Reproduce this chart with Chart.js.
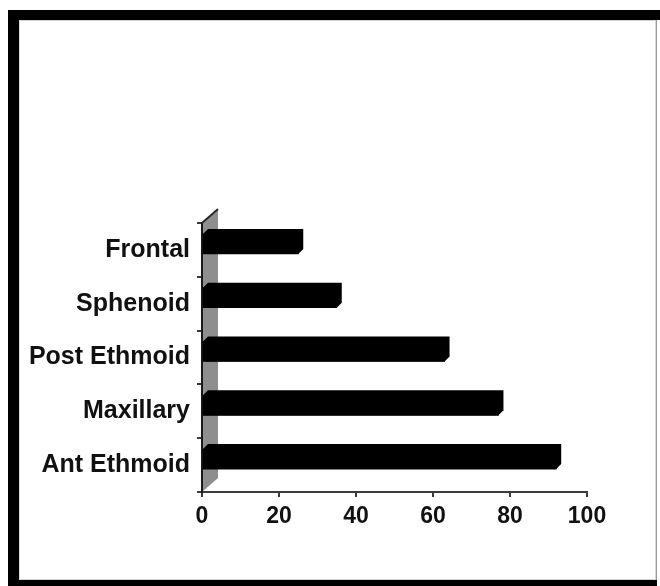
<!DOCTYPE html>
<html>
<head>
<meta charset="utf-8">
<script src="https://cdn.jsdelivr.net/npm/chart.js@4/dist/chart.umd.min.js"></script>
<style>
  html, body { margin: 0; padding: 0; background: #fff; }
  #wrap { position: relative; width: 660px; height: 586px; }
  canvas { display: block; }
</style>
</head>
<body>
<div id="wrap"><canvas id="c" width="660" height="586"></canvas></div>
<script>
// Sinus involvement by site (%)
const categories = ['Frontal', 'Sphenoid', 'Post Ethmoid', 'Maxillary', 'Ant Ethmoid'];
const percentages = [25, 35, 63, 77, 92];
const xTickValues = [0, 20, 40, 60, 80, 100];

const FONT = '"Liberation Sans", Arial, Helvetica, sans-serif';
const BAR_DEPTH = 5;      // extrusion of each bar (px)
const WALL_DX = 16;       // side wall depth, horizontal
const WALL_DY = 14;       // side wall depth, vertical
const BAR_LIFT = 6;       // bars sit slightly back from the floor edge

// Black frame around the figure
const framePlugin = {
  id: 'frame',
  beforeDraw(chart) {
    const ctx = chart.ctx;
    ctx.save();
    ctx.fillStyle = '#ffffff';
    ctx.fillRect(0, 0, chart.width, chart.height);
    ctx.fillStyle = '#000000';
    ctx.fillRect(8, 10, 11, 576);      // left
    ctx.fillRect(8, 10, 652, 10);      // top
    ctx.fillRect(8, 580, 649, 6);      // bottom
    ctx.fillStyle = '#9a9a9a';
    ctx.fillRect(656, 20, 1, 560);     // right hairline
    ctx.strokeStyle = '#d6d6d6';
    ctx.lineWidth = 1;
    ctx.strokeRect(19.5, 20.5, 636, 559);
    ctx.restore();
  }
};

// Grey side wall and extruded 3-D bars
const depthPlugin = {
  id: 'depth',
  beforeDatasetsDraw(chart) {
    const { ctx, chartArea } = chart;
    const l = chartArea.left, t = chartArea.top, b = chartArea.bottom;
    ctx.save();
    ctx.beginPath();
    ctx.moveTo(l, b);
    ctx.lineTo(l, t);
    ctx.lineTo(l + WALL_DX, t - WALL_DY);
    ctx.lineTo(l + WALL_DX, b - WALL_DY);
    ctx.closePath();
    ctx.fillStyle = '#8e8e8e';
    ctx.fill();
    // top edge of the wall
    ctx.beginPath();
    ctx.moveTo(l, t);
    ctx.lineTo(l + WALL_DX, t - WALL_DY);
    ctx.strokeStyle = '#2a2a2a';
    ctx.lineWidth = 2;
    ctx.stroke();
    // front edge of the wall (value axis origin)
    ctx.beginPath();
    ctx.moveTo(l, t);
    ctx.lineTo(l, b);
    ctx.strokeStyle = '#1a1a1a';
    ctx.lineWidth = 2;
    ctx.stroke();
    ctx.restore();

    ctx.save();
    ctx.translate(0, -BAR_LIFT);
  },
  afterDatasetsDraw(chart) {
    const ctx = chart.ctx;
    const meta = chart.getDatasetMeta(0);
    ctx.fillStyle = '#000000';
    meta.data.forEach(bar => {
      const p = bar.getProps(['x', 'y', 'base', 'height'], true);
      const top = p.y - p.height / 2, bot = p.y + p.height / 2;
      ctx.beginPath();
      ctx.moveTo(p.base, bot);
      ctx.lineTo(p.base, top);
      ctx.lineTo(p.base + BAR_DEPTH, top - BAR_DEPTH);
      ctx.lineTo(p.x + BAR_DEPTH, top - BAR_DEPTH);
      ctx.lineTo(p.x + BAR_DEPTH, bot - BAR_DEPTH);
      ctx.lineTo(p.x, bot);
      ctx.closePath();
      ctx.fill();
    });
    ctx.restore();
  }
};

new Chart(document.getElementById('c'), {
  type: 'bar',
  data: {
    labels: categories,
    datasets: [{
      data: percentages,
      backgroundColor: '#000000',
      borderWidth: 0,
      barThickness: 20
    }]
  },
  options: {
    indexAxis: 'y',
    responsive: false,
    animation: false,
    devicePixelRatio: 1,
    layout: { padding: { top: 223, right: 73, bottom: 0, left: 0 } },
    plugins: {
      legend: { display: false },
      tooltip: { enabled: false }
    },
    scales: {
      x: {
        type: 'linear',
        min: 0,
        max: 100,
        afterBuildTicks(scale) {
          scale.ticks = xTickValues.map(v => ({ value: v }));
        },
        afterFit(scale) { scale.height = 94; },
        grid: {
          drawOnChartArea: false,
          drawTicks: true,
          tickLength: 5,
          color: '#3a3a3a',
          lineWidth: 2
        },
        border: { display: true, color: '#3a3a3a', width: 2 },
        ticks: {
          color: '#111111',
          padding: 6,
          maxRotation: 0,
          font: { family: FONT, size: 23, weight: 'bold' }
        }
      },
      y: {
        type: 'category',
        afterFit(scale) { scale.width = 202; },
        grid: {
          drawOnChartArea: false,
          drawTicks: true,
          tickLength: 5,
          color: '#3a3a3a',
          lineWidth: 2
        },
        border: { display: true, color: '#1a1a1a', width: 2 },
        ticks: {
          color: '#111111',
          padding: 7,
          font: { family: FONT, size: 25, weight: 'bold' }
        }
      }
    }
  },
  plugins: [framePlugin, depthPlugin]
});
</script>
</body>
</html>
